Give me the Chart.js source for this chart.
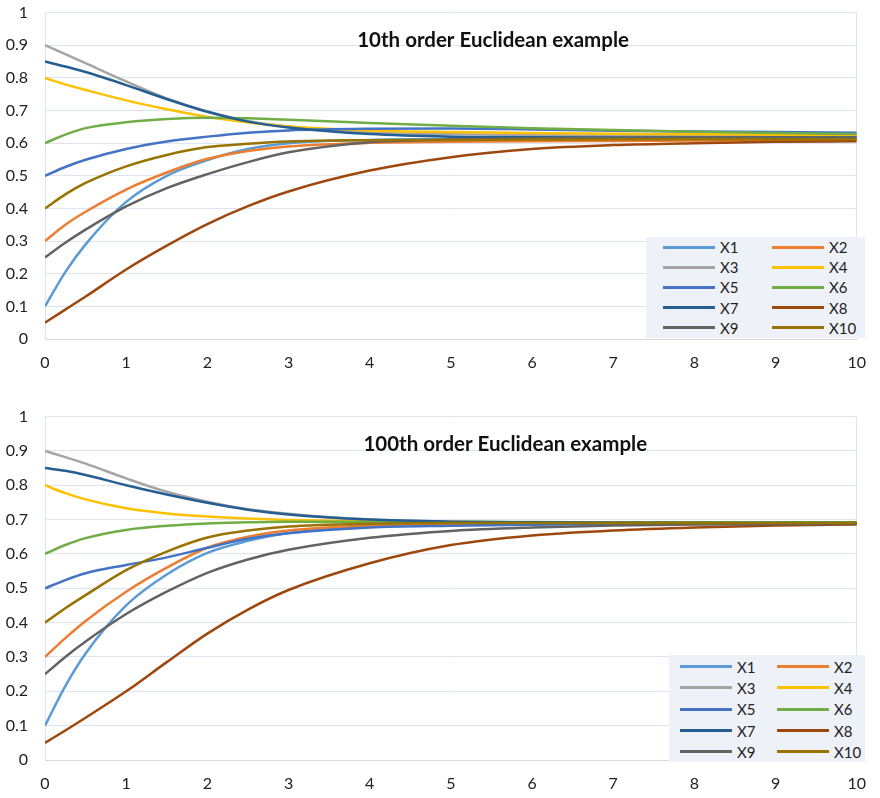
<!DOCTYPE html>
<html>
<head>
<meta charset="utf-8">
<script src="https://cdn.jsdelivr.net/npm/chart.js@4.4.0/dist/chart.umd.min.js"></script>
<style>
  html, body { margin: 0; padding: 0; background: #fff; }
  .panel { position: absolute; left: 0; width: 880px; }
  /* the y-axis tick padding also pads the top of the plot, so the canvases start a bit higher */
  #panel1 { top: -14px; height: 394px; }
  #panel2 { top: 390px; height: 408px; }
  .legend {
    position: absolute; box-sizing: border-box; background: #eef2f8;
    display: grid; font: 15px Lato, sans-serif; color: #222;
  }
  .legend-item { display: flex; align-items: center; }
  .legend-item .swatch { width: 52px; height: 3px; margin-right: 5px; }
  #legend1 { left: 646px; top: 251px; width: 219px; height: 101px; padding: 0 0 0 17px;
             grid-template-columns: 109px auto; grid-auto-rows: 20.2px; }
  #legend2 { left: 669px; top: 265px; width: 196px; height: 107px; padding: 1px 0 0 11px;
             grid-template-columns: 97px auto; grid-auto-rows: 21.3px; }
</style>
</head>
<body>
<div class="panel" id="panel1"><canvas id="chart1"></canvas><div class="legend" id="legend1"></div></div>
<div class="panel" id="panel2"><canvas id="chart2"></canvas><div class="legend" id="legend2"></div></div>
<script>
// --- Data ---
const xs = [0, 0.25, 0.5, 1, 1.5, 2, 2.5, 3, 4, 5, 6, 7, 8, 9, 10];
const names = ['X1', 'X2', 'X3', 'X4', 'X5', 'X6', 'X7', 'X8', 'X9', 'X10'];
const colors = ['#5B9BD5', '#ED7D31', '#A5A5A5', '#FFC000', '#4472C4',
                '#70AD47', '#255E91', '#9E480E', '#636363', '#997300'];

// 10th order
const o10x1  = [0.10, 0.205, 0.290, 0.420, 0.500, 0.548, 0.582, 0.600, 0.610, 0.613, 0.614, 0.615, 0.615, 0.615, 0.615];
const o10x2  = [0.30, 0.350, 0.390, 0.458, 0.510, 0.552, 0.576, 0.590, 0.601, 0.604, 0.606, 0.607, 0.608, 0.609, 0.609];
const o10x3  = [0.90, 0.873, 0.845, 0.789, 0.737, 0.697, 0.668, 0.651, 0.633, 0.627, 0.624, 0.623, 0.622, 0.622, 0.622];
const o10x4  = [0.80, 0.780, 0.763, 0.731, 0.704, 0.680, 0.664, 0.651, 0.639, 0.634, 0.631, 0.629, 0.627, 0.626, 0.625];
const o10x5  = [0.50, 0.527, 0.549, 0.582, 0.605, 0.620, 0.632, 0.639, 0.644, 0.645, 0.642, 0.638, 0.636, 0.634, 0.632];
const o10x6  = [0.60, 0.626, 0.646, 0.664, 0.674, 0.678, 0.676, 0.672, 0.662, 0.653, 0.646, 0.640, 0.635, 0.631, 0.628];
const o10x7  = [0.85, 0.835, 0.818, 0.778, 0.735, 0.696, 0.666, 0.648, 0.628, 0.620, 0.618, 0.617, 0.617, 0.617, 0.617];
const o10x8  = [0.05, 0.090, 0.130, 0.213, 0.286, 0.352, 0.407, 0.452, 0.516, 0.557, 0.582, 0.594, 0.600, 0.604, 0.606];
const o10x9  = [0.25, 0.295, 0.335, 0.406, 0.462, 0.505, 0.542, 0.572, 0.603, 0.611, 0.614, 0.616, 0.617, 0.617, 0.617];
const o10x10 = [0.40, 0.443, 0.478, 0.529, 0.564, 0.588, 0.598, 0.605, 0.609, 0.610, 0.611, 0.612, 0.612, 0.612, 0.612];

// 100th order
const o100x1  = [0.10, 0.215, 0.310, 0.450, 0.540, 0.603, 0.638, 0.661, 0.679, 0.685, 0.688, 0.689, 0.689, 0.689, 0.689];
const o100x2  = [0.30, 0.355, 0.405, 0.490, 0.560, 0.618, 0.650, 0.668, 0.683, 0.688, 0.689, 0.690, 0.690, 0.690, 0.690];
const o100x3  = [0.90, 0.882, 0.863, 0.820, 0.781, 0.752, 0.730, 0.717, 0.700, 0.694, 0.692, 0.691, 0.690, 0.690, 0.690];
const o100x4  = [0.80, 0.777, 0.759, 0.733, 0.718, 0.709, 0.703, 0.699, 0.695, 0.693, 0.692, 0.691, 0.690, 0.690, 0.690];
const o100x5  = [0.50, 0.524, 0.544, 0.568, 0.590, 0.618, 0.644, 0.660, 0.677, 0.682, 0.685, 0.687, 0.688, 0.688, 0.688];
const o100x6  = [0.60, 0.626, 0.646, 0.670, 0.682, 0.689, 0.692, 0.694, 0.694, 0.693, 0.693, 0.692, 0.692, 0.692, 0.692];
const o100x7  = [0.85, 0.842, 0.830, 0.800, 0.773, 0.749, 0.729, 0.715, 0.700, 0.694, 0.692, 0.691, 0.690, 0.690, 0.690];
const o100x8  = [0.05, 0.086, 0.123, 0.200, 0.285, 0.368, 0.438, 0.495, 0.573, 0.626, 0.654, 0.668, 0.677, 0.683, 0.686];
const o100x9  = [0.25, 0.300, 0.345, 0.425, 0.490, 0.545, 0.584, 0.612, 0.647, 0.667, 0.677, 0.683, 0.686, 0.687, 0.688];
const o100x10 = [0.40, 0.442, 0.480, 0.553, 0.607, 0.648, 0.668, 0.680, 0.688, 0.690, 0.690, 0.690, 0.690, 0.690, 0.690];

const series10  = [o10x1, o10x2, o10x3, o10x4, o10x5, o10x6, o10x7, o10x8, o10x9, o10x10];
const series100 = [o100x1, o100x2, o100x3, o100x4, o100x5, o100x6, o100x7, o100x8, o100x9, o100x10];

const GRID = '#dce5f1';
const FONT = 'Lato';

// title drawn inside the plot area
const insideTitle = {
  id: 'insideTitle',
  afterDraw(chart, args, opts) {
    const { ctx, chartArea } = chart;
    ctx.save();
    ctx.font = 'bold 20.5px ' + FONT;
    ctx.fillStyle = '#111';
    ctx.textAlign = 'center';
    ctx.textBaseline = 'middle';
    ctx.fillText(opts.text, chartArea.left + chartArea.width * opts.cx, chartArea.top + opts.dy);
    ctx.restore();
  }
};

function buildLegend(id) {
  const el = document.getElementById(id);
  el.innerHTML = names.map((n, i) =>
    `<div class="legend-item"><span class="swatch" style="background:${colors[i]}"></span>${n}</div>`
  ).join('');
}

function makeChart(canvasId, series, title, titleX, axisHeight) {
  const datasets = series.map((ys, i) => ({
    label: names[i],
    data: xs.map((x, k) => ({ x: x, y: ys[k] })),
    borderColor: colors[i],
    backgroundColor: colors[i],
    borderWidth: 2.5,
    pointRadius: 0,
    cubicInterpolationMode: 'monotone',
    order: series.length - 1 - i
  }));

  return new Chart(document.getElementById(canvasId), {
    type: 'line',
    data: { datasets },
    options: {
      responsive: true,
      maintainAspectRatio: false,
      animation: false,
      layout: { padding: { top: 0, right: 16, left: 0, bottom: 0 } },
      plugins: {
        legend: { display: false },
        tooltip: { enabled: false },
        insideTitle: { text: title, cx: titleX, dy: 28 }
      },
      scales: {
        x: {
          type: 'linear', min: 0, max: 10,
          afterFit: s => { s.height = axisHeight; },
          border: { color: '#d9d9d9', width: 1 },
          grid: {
            drawTicks: false,
            color: c => (c.tick && c.tick.value === 10) ? GRID : 'transparent'
          },
          ticks: { stepSize: 1, padding: 14, color: '#222', font: { family: FONT, size: 16 } }
        },
        y: {
          min: 0, max: 1,
          afterFit: s => { s.width = 45; },
          border: { color: GRID, width: 1 },
          grid: { drawTicks: false, color: GRID },
          ticks: {
            stepSize: 0.1, padding: 17, color: '#222', font: { family: FONT, size: 16 },
            callback: v => String(+v.toFixed(1))
          }
        }
      }
    },
    plugins: [insideTitle]
  });
}

buildLegend('legend1');
buildLegend('legend2');
makeChart('chart1', series10, '10th order Euclidean example', 0.552, 41);
makeChart('chart2', series100, '100th order Euclidean example', 0.567, 38);
</script>
</body>
</html>
